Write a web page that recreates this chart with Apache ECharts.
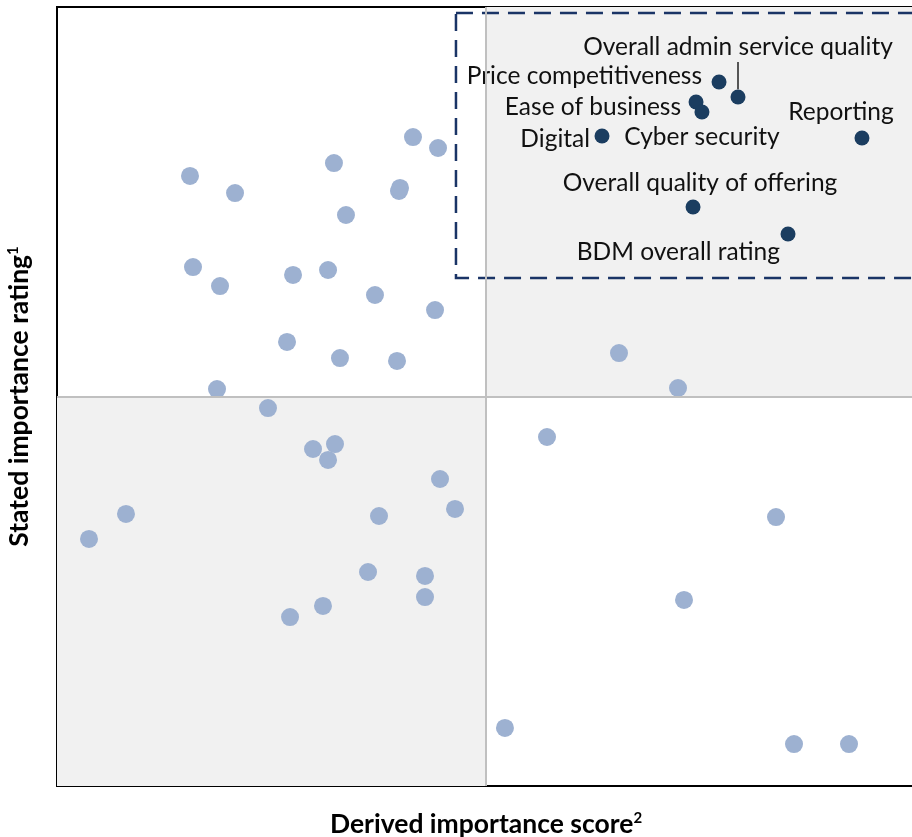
<!DOCTYPE html>
<html>
<head>
<meta charset="utf-8">
<script src="https://cdn.jsdelivr.net/npm/echarts@6/dist/echarts.min.js"></script>
<style>html,body{margin:0;padding:0;background:#fff}#c{width:912px;height:837px}</style>
</head>
<body>
<div id="c"></div>
<script>
// Other attributes (light dots): [derived importance, stated importance]
var otherPoints = [
  [41.49, 83.31], [44.41, 81.90], [32.28, 79.97], [15.50, 78.31], [20.75, 76.12],
  [39.86, 76.38], [39.98, 76.77], [33.68, 73.30], [15.85, 66.62], [19.00, 64.18],
  [27.51, 65.60], [31.59, 66.24], [37.06, 63.03], [44.06, 61.10], [26.81, 57.00],
  [32.98, 54.94], [39.63, 54.56], [18.65, 50.96], [24.59, 48.52], [29.84, 43.26],
  [32.40, 43.90], [31.59, 41.85], [44.64, 39.41], [46.39, 35.56], [37.53, 34.66],
  [8.04, 34.92], [3.73, 31.71], [36.25, 27.47], [42.89, 26.96], [42.89, 24.26],
  [31.00, 23.11], [27.16, 21.69], [65.50, 55.58], [72.38, 51.09], [57.11, 44.80],
  [83.80, 34.53], [73.08, 23.88], [52.21, 7.45], [85.90, 5.39], [92.31, 5.39]
];
// Highlighted attributes
var keyNames = ["Price competitiveness", "Overall admin service quality", "Ease of business",
  "Cyber security", "Digital", "Reporting", "Overall quality of offering", "BDM overall rating"];
var keyX = [77.16, 79.37, 74.48, 75.17, 63.52, 93.82, 74.13, 85.20];
var keyY = [90.37, 88.45, 87.80, 86.52, 83.44, 83.18, 74.33, 70.86];

var xTitle = "Derived importance score";
var yTitle = "Stated importance rating";
var midX = 50, midY = 50;
var focusBox = { x1: 46.5, x2: 100, y1: 65.21, y2: 99.23 };

// label placement styles (visual only)
var labelStyle = {
  "Price competitiveness": { align: 'right', offset: [-17, -6] },
  "Overall admin service quality": { align: 'center', offset: [0, -50] },
  "Ease of business": { align: 'right', offset: [-15, 5] },
  "Cyber security": { align: 'center', offset: [0, 25] },
  "Digital": { align: 'right', offset: [-12, 3] },
  "Reporting": { align: 'center', offset: [-21, -26] },
  "Overall quality of offering": { align: 'center', offset: [7, -24] },
  "BDM overall rating": { align: 'right', offset: [-8, 18] }
};

var keyData = keyNames.map(function (n, i) {
  var s = labelStyle[n];
  return {
    name: n, value: [keyX[i], keyY[i]],
    label: { show: true, position: 'inside', align: s.align, verticalAlign: 'middle', offset: s.offset,
      formatter: n, color: '#111', fontSize: 24.5, fontFamily: 'Lato' }
  };
});
var adminIdx = keyNames.indexOf("Overall admin service quality");
var leader = [[{ coord: [keyX[adminIdx], keyY[adminIdx] + 1.0] }, { coord: [keyX[adminIdx], keyY[adminIdx] + 4.5] }]];

var chart = echarts.init(document.getElementById('c'), null, { renderer: 'canvas' });
var titleRich = { sup: { fontSize: 15, fontWeight: 'bold', fontFamily: 'Lato', color: '#000', verticalAlign: 'top', padding: [0, 0, 10, 0] } };
chart.setOption({
  animation: false,
  grid: { left: 57, top: 7, right: -3, bottom: 51, outerBoundsMode: 'none', containLabel: false,
    show: true, borderColor: '#000', borderWidth: 2, backgroundColor: '#fff' },
  xAxis: {
    type: 'value', min: 0, max: 100,
    axisLine: { show: false }, axisTick: { show: false }, axisLabel: { show: false }, splitLine: { show: false },
    name: xTitle + '{sup|2}', nameLocation: 'middle', nameGap: 25,
    nameTextStyle: { fontSize: 26.5, fontWeight: 'bold', fontFamily: 'Lato', color: '#000', rich: titleRich }
  },
  yAxis: {
    type: 'value', min: 0, max: 100,
    axisLine: { show: false }, axisTick: { show: false }, axisLabel: { show: false }, splitLine: { show: false },
    name: yTitle + '{sup|1}', nameLocation: 'middle', nameGap: 24,
    nameTextStyle: { fontSize: 26.5, fontWeight: 'bold', fontFamily: 'Lato', color: '#000', rich: titleRich }
  },
  series: [
    {
      type: 'scatter', data: [], silent: true, z: 1,
      markArea: {
        silent: true,
        itemStyle: { color: '#f1f1f1' },
        data: [
          [{ coord: [midX, midY] }, { coord: [100, 100] }],
          [{ coord: [0, 0] }, { coord: [midX, midY] }]
        ]
      },
      markLine: {
        silent: true, symbol: 'none', label: { show: false },
        lineStyle: { color: '#c0c0c0', width: 2, type: 'solid' },
        data: [{ xAxis: midX }, { yAxis: midY }]
      }
    },
    {
      type: 'scatter', data: [], silent: true, z: 2,
      markArea: {
        silent: true,
        itemStyle: { color: 'rgba(0,0,0,0)', borderColor: '#1a3466', borderWidth: 2.5, borderType: [17, 9] },
        data: [[{ coord: [focusBox.x1, focusBox.y2] }, { coord: [focusBox.x2, focusBox.y1] }]]
      },
      markLine: {
        silent: true, symbol: 'none', label: { show: false },
        lineStyle: { color: '#222', width: 1.5, type: 'solid' },
        data: leader
      }
    },
    {
      type: 'scatter', z: 3, symbolSize: 18,
      itemStyle: { color: '#9db1d1', opacity: 1 },
      data: otherPoints
    },
    {
      type: 'scatter', z: 4, symbolSize: 15,
      itemStyle: { color: '#1b3d60', opacity: 1 },
      data: keyData
    }
  ]
});
</script>
</body>
</html>
